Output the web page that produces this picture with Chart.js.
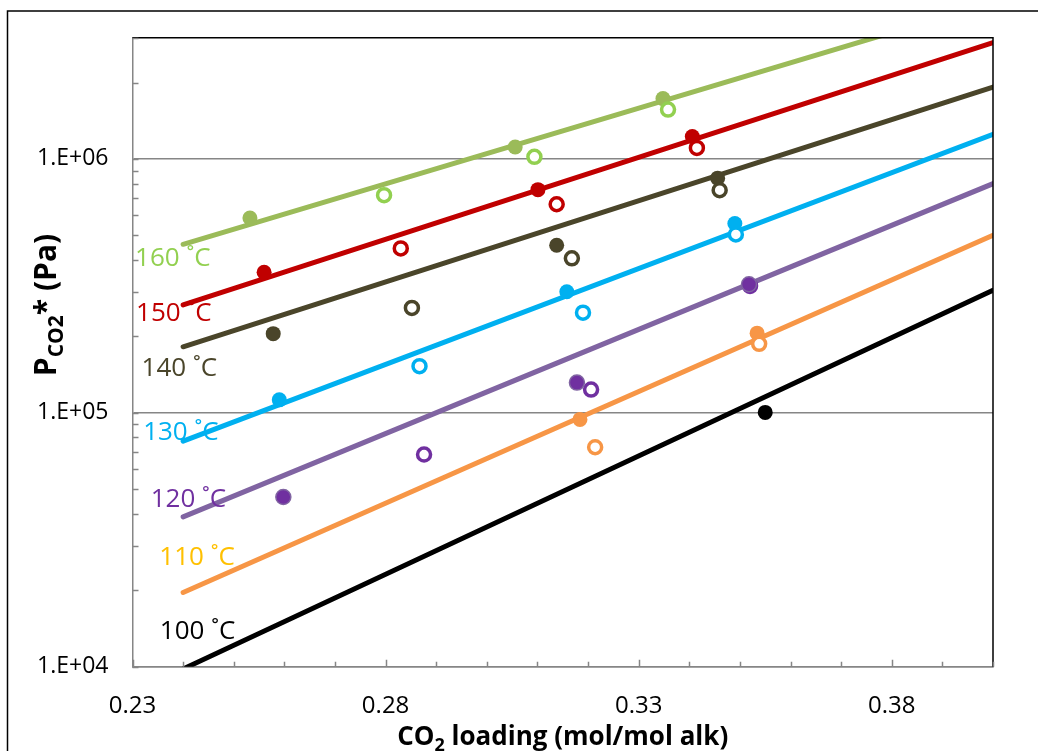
<!DOCTYPE html>
<html>
<head>
<meta charset="utf-8">
<script src="https://cdn.jsdelivr.net/npm/chart.js@4.4.0/dist/chart.umd.min.js"></script>
<style>
  body { margin: 0; background: #fff; }
  #wrap { width: 1038px; height: 751px; }
</style>
</head>
<body>
<div id="wrap"><canvas id="chart_pco2" width="1038" height="751"></canvas></div>
<script>
// temperatures (one fit line + measured points each)
var temps = ['160 ˚C', '150 ˚C', '140 ˚C', '130 ˚C', '120 ˚C', '110 ˚C', '100 ˚C'];

// fit lines, evaluated at both ends of the loading range
var fit_loading = [0.24, 0.40];
var fit_160 = [4.61e5, 4.14e6];
var fit_150 = [2.66e5, 2.87e6];
var fit_140 = [1.82e5, 1.92e6];
var fit_130 = [7.73e4, 1.25e6];
var fit_120 = [3.89e4, 7.99e5];
var fit_110 = [1.96e4, 5.00e5];
var fit_100 = [9.8e3, 3.04e5];

// filled circles
var solid_160_x = [0.2532, 0.3056, 0.3348];
var solid_160_y = [5.85e5, 1.115e6, 1.728e6];
var solid_150_x = [0.2560, 0.3101, 0.3406];
var solid_150_y = [3.58e5, 7.57e5, 1.226e6];
var solid_140_x = [0.2578, 0.3138, 0.3456];
var solid_140_y = [2.05e5, 4.57e5, 8.40e5];
var solid_130_x = [0.2590, 0.3158, 0.3490];
var solid_130_y = [1.125e5, 3.00e5, 5.57e5];
var solid_120_x = [0.2598, 0.3178, 0.3518];
var solid_120_y = [4.66e4, 1.315e5, 3.21e5];
var solid_110_x = [0.3184, 0.3534];
var solid_110_y = [9.42e4, 2.06e5];
var solid_100_x = [0.3550];
var solid_100_y = [1.004e5];

// open circles
var open_160_x = [0.2797, 0.3094, 0.3358];
var open_160_y = [7.20e5, 1.019e6, 1.564e6];
var open_150_x = [0.2830, 0.3138, 0.3415];
var open_150_y = [4.44e5, 6.63e5, 1.105e6];
var open_140_x = [0.2852, 0.3168, 0.3460];
var open_140_y = [2.59e5, 4.06e5, 7.53e5];
var open_130_x = [0.2867, 0.3190, 0.3492];
var open_130_y = [1.527e5, 2.48e5, 5.04e5];
var open_120_x = [0.2876, 0.3206, 0.3520];
var open_120_y = [6.85e4, 1.235e5, 3.16e5];
var open_110_x = [0.3214, 0.3538];
var open_110_y = [7.32e4, 1.87e5];
var open_100_x = [];
var open_100_y = [];

// where the temperature labels sit (data coords)
var label_x = [0.2305, 0.2307, 0.2318, 0.2321, 0.2336, 0.2353, 0.2354];
var label_y = [4.04e5, 2.46e5, 1.50e5, 8.33e4, 4.57e4, 2.68e4, 1.37e4];

// axes
var x_major_ticks = [0.23, 0.28, 0.33, 0.38];
var x_tick_labels = ['0.23', '0.28', '0.33', '0.38'];
var y_major_ticks = [1e4, 1e5, 1e6];
var y_tick_labels = ['1.E+04', '1.E+05', '1.E+06'];

var fit_series = [fit_160, fit_150, fit_140, fit_130, fit_120, fit_110, fit_100];
var solid_x = [solid_160_x, solid_150_x, solid_140_x, solid_130_x, solid_120_x, solid_110_x, solid_100_x];
var solid_y = [solid_160_y, solid_150_y, solid_140_y, solid_130_y, solid_120_y, solid_110_y, solid_100_y];
var open_x = [open_160_x, open_150_x, open_140_x, open_130_x, open_120_x, open_110_x, open_100_x];
var open_y = [open_160_y, open_150_y, open_140_y, open_130_y, open_120_y, open_110_y, open_100_y];

var line_colors = ['#9BBB59', '#C00000', '#4A452A', '#00B0F0', '#8064A2', '#F79646', '#000000'];
var solid_colors = ['#9BBB59', '#C00000', '#4A452A', '#00B0F0', '#7030A0', '#F79646', '#000000'];
var open_colors = ['#92D050', '#C00000', '#4A452A', '#00B0F0', '#7030A0', '#F79646', '#000000'];
var label_colors = ['#92D050', '#C00000', '#4A452A', '#00B0F0', '#7030A0', '#FFC000', '#000000'];
var axis_gray = '#868686';
var font_family = '"Open Sans", "Noto Sans", sans-serif';

function toPoints(xs, ys) {
  return xs.map(function (x, i) { return { x: x, y: ys[i] }; });
}

var datasets = [];
for (var i = 0; i < temps.length; i++) {
  datasets.push({
    label: temps[i] + ' fit',
    data: toPoints(fit_loading, fit_series[i]),
    showLine: true,
    borderColor: line_colors[i],
    borderWidth: 5,
    borderCapStyle: 'round',
    pointRadius: 0,
    order: 3
  });
  datasets.push({
    label: temps[i] + ' filled',
    data: toPoints(solid_x[i], solid_y[i]),
    pointRadius: 7.5,
    backgroundColor: solid_colors[i],
    borderColor: i == 4 ? '#8064A2' : solid_colors[i],
    borderWidth: i == 4 ? 1.5 : 0,
    order: i == 4 ? 0 : 2
  });
  if (open_x[i].length) {
    datasets.push({
      label: temps[i] + ' open',
      data: toPoints(open_x[i], open_y[i]),
      pointRadius: 6.5,
      borderWidth: 3.5,
      backgroundColor: '#ffffff',
      borderColor: open_colors[i],
      order: 1
    });
  }
}

// text with subscripts, centred on (x, y), optionally rotated
function drawRich(ctx, pieces, x, y, angle) {
  ctx.save();
  ctx.translate(x, y);
  ctx.rotate(angle);
  ctx.textBaseline = 'alphabetic';
  ctx.textAlign = 'left';
  ctx.fillStyle = '#000';
  var total = 0;
  pieces.forEach(function (p) {
    ctx.font = 'bold ' + p.size + 'px ' + font_family;
    p.w = ctx.measureText(p.t).width;
    total += p.w;
  });
  var cx = -total / 2;
  pieces.forEach(function (p) {
    ctx.font = 'bold ' + p.size + 'px ' + font_family;
    ctx.fillText(p.t, cx, p.dy);
    cx += p.w;
  });
  ctx.restore();
}

var decorPlugin = {
  id: 'decor',
  afterDraw: function (chart) {
    var ctx = chart.ctx;
    var area = chart.chartArea;
    var xs = chart.scales.x;
    var ys = chart.scales.y;

    ctx.save();
    // outer frame (only left and top show in the picture)
    ctx.strokeStyle = '#000';
    ctx.lineWidth = 1.5;
    ctx.beginPath();
    ctx.moveTo(7.5, 760);
    ctx.lineTo(7.5, 11);
    ctx.lineTo(1045, 11);
    ctx.stroke();

    // top and right border of the plot
    ctx.beginPath();
    ctx.moveTo(area.left, area.top);
    ctx.lineTo(area.right, area.top);
    ctx.lineTo(area.right, area.bottom);
    ctx.stroke();

    // inside tick marks
    ctx.strokeStyle = axis_gray;
    ctx.lineWidth = 1.5;
    ctx.beginPath();
    for (var k = 23; k <= 40; k++) {
      var v = k / 100;
      var px = Math.round(xs.getPixelForValue(v)) + 0.5;
      var len = x_major_ticks.some(function (m) { return Math.abs(m - v) < 1e-9; }) ? 7 : 5;
      ctx.moveTo(px, area.bottom);
      ctx.lineTo(px, area.bottom - len);
    }
    y_major_ticks.forEach(function (d) {
      for (var m = 1; m <= 9; m++) {
        var val = m * d;
        if (val > ys.max) break;
        var py = Math.round(ys.getPixelForValue(val)) + 0.5;
        ctx.moveTo(area.left, py);
        ctx.lineTo(area.left + 6, py);
      }
    });
    ctx.stroke();

    // temperature labels
    ctx.font = '26px ' + font_family;
    ctx.textAlign = 'left';
    ctx.textBaseline = 'middle';
    for (var i = 0; i < temps.length; i++) {
      ctx.fillStyle = label_colors[i];
      ctx.fillText(temps[i], xs.getPixelForValue(label_x[i]), ys.getPixelForValue(label_y[i]));
    }
    ctx.restore();

    // axis titles
    drawRich(ctx, [
      { t: 'P', size: 30, dy: 0 },
      { t: 'CO2', size: 21, dy: 7 },
      { t: '*', size: 30, dy: 0 },
      { t: ' (Pa)', size: 30, dy: 0 }
    ], 56, 305, -Math.PI / 2);
    drawRich(ctx, [
      { t: 'CO', size: 26, dy: 0 },
      { t: '2', size: 18, dy: 6 },
      { t: ' loading (mol/mol alk)', size: 26, dy: 0 }
    ], (area.left + area.right) / 2, 745, 0);
  }
};

var ctx_pco2 = document.getElementById('chart_pco2').getContext('2d');
var chartPco2 = new Chart(ctx_pco2, {
  type: 'scatter',
  data: { datasets: datasets },
  options: {
    responsive: false,
    animation: false,
    events: [],
    layout: { padding: { left: 0, top: 34, right: 45, bottom: 0 } },
    plugins: {
      legend: { display: false },
      tooltip: { enabled: false }
    },
    scales: {
      x: {
        type: 'linear',
        min: 0.23,
        max: 0.40,
        afterBuildTicks: function (scale) {
          scale.ticks = x_major_ticks.map(function (v) { return { value: v }; });
        },
        afterFit: function (scale) { scale.height = 84.3; },
        ticks: {
          callback: function (v, idx) { return x_tick_labels[idx]; },
          color: '#000',
          font: { family: font_family, size: 24 },
          padding: 25,
          maxRotation: 0,
          autoSkip: false
        },
        grid: { drawOnChartArea: false, drawTicks: false },
        border: { color: axis_gray, width: 1.5 }
      },
      y: {
        type: 'logarithmic',
        min: 1e4,
        max: 3e6,
        afterBuildTicks: function (scale) {
          scale.ticks = y_major_ticks.map(function (v) { return { value: v }; });
        },
        afterFit: function (scale) { scale.width = 132.5; },
        ticks: {
          callback: function (v, idx) { return y_tick_labels[idx]; },
          color: '#000',
          font: { family: font_family, size: 23 },
          padding: 24,
          autoSkip: false
        },
        grid: { color: axis_gray, lineWidth: 1.5, drawTicks: false },
        border: { color: axis_gray, width: 1.5 }
      }
    }
  },
  plugins: [decorPlugin]
});
</script>
</body>
</html>
